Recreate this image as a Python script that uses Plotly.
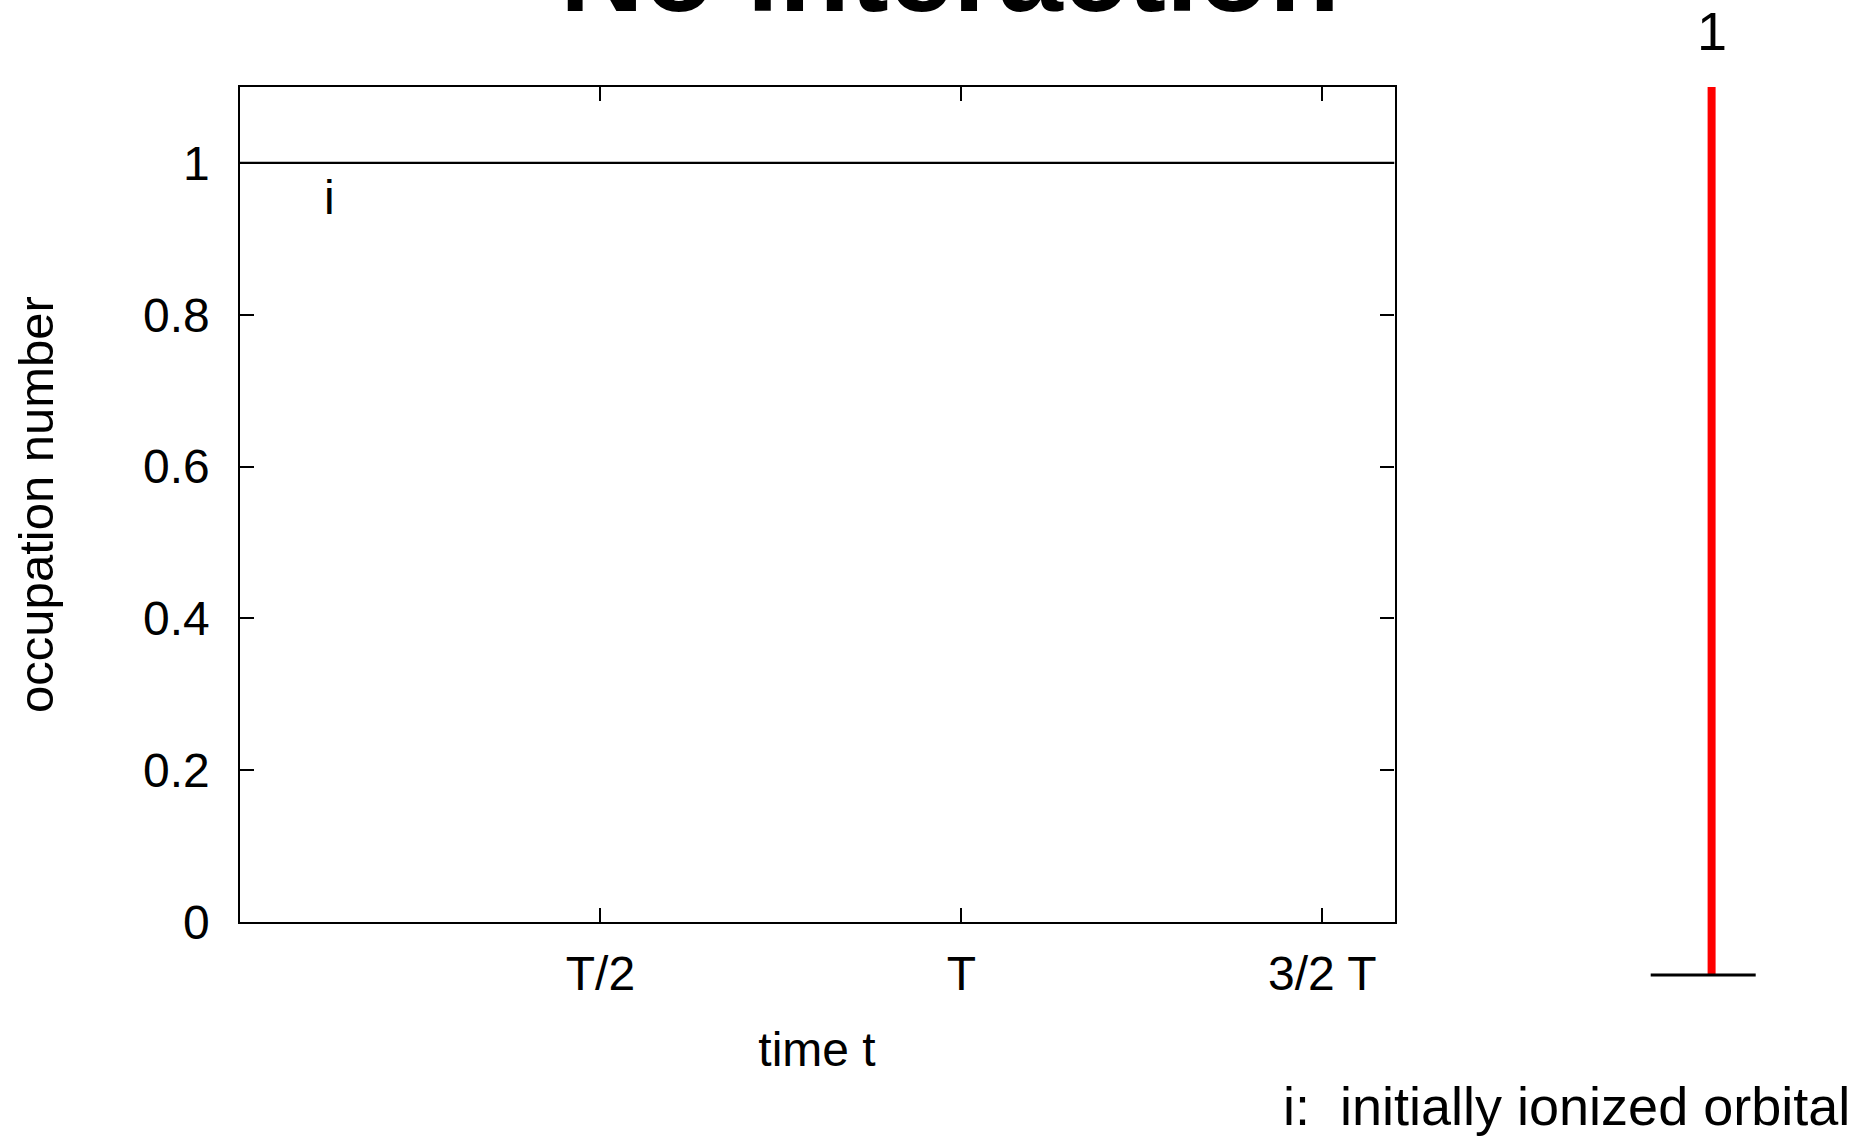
import plotly.graph_objects as go

# ---- data ----
time_t = [0.0, 1.6]            # in units of T
occupation_i = [1.0, 1.0]      # orbital i occupation number
x_tickvals = [0.5, 1.0, 1.5]
x_ticklabels = ["T/2", "T", "3/2 T"]
y_tickvals = [0, 0.2, 0.4, 0.6, 0.8, 1.0]
y_ticklabels = ["0", "0.2", "0.4", "0.6", "0.8", "1"]
level_x = [-0.5, 0.5]
level_y = [0.0, 0.0]
bar_x = [0.08, 0.08]
bar_occ = [0.0, 1.0]
bar_label = "1"

FONT = "Liberation Sans, Arial, Helvetica, sans-serif"
W, H = 1861, 1136

fig = go.Figure()
fig.add_trace(go.Scatter(x=time_t, y=occupation_i, mode="lines",
                         line=dict(color="black", width=2.2), showlegend=False,
                         xaxis="x", yaxis="y"))
fig.add_trace(go.Scatter(x=bar_x, y=bar_occ, mode="lines",
                         line=dict(color="#ff0000", width=8), showlegend=False,
                         xaxis="x2", yaxis="y2"))
fig.add_trace(go.Scatter(x=level_x, y=level_y, mode="lines",
                         line=dict(color="black", width=3), showlegend=False,
                         xaxis="x2", yaxis="y2"))

axis_common = dict(showgrid=False, zeroline=False, showline=True, linecolor="black",
                   linewidth=2.4, mirror="ticks", ticks="inside", ticklen=14,
                   tickwidth=2.2, tickcolor="black", automargin=False,
                   tickfont=dict(family=FONT, size=48, color="black"))

fig.update_layout(
    width=W, height=H,
    margin=dict(l=0, r=0, t=0, b=0, autoexpand=False),
    paper_bgcolor="white", plot_bgcolor="white",
    xaxis=dict(domain=[239.5 / W, 1394.5 / W], range=[0, 1.6],
               tickvals=x_tickvals, ticktext=x_ticklabels,
               ticklabelstandoff=8,
               title=dict(text="time t", font=dict(family=FONT, size=48, color="black"),
                          standoff=34),
               **axis_common),
    yaxis=dict(domain=[1 - 922 / H, 1 - 87 / H], range=[0, 1.1],
               tickvals=y_tickvals, ticktext=y_ticklabels,
               ticklabelstandoff=18,
               title=dict(text="occupation number", font=dict(family=FONT, size=49, color="black"),
                          standoff=74),
               **axis_common),
    xaxis2=dict(domain=[1640.2 / W, 1766.2 / W], range=[-0.6, 0.6], visible=False,
                anchor="y2", automargin=False),
    yaxis2=dict(domain=[1 - 1019.4 / H, 1 - 87 / H], range=[-0.05, 1.0], visible=False,
                anchor="x2", automargin=False),
    annotations=[
        dict(text="<b>No interaction</b>", xref="paper", yref="paper",
             x=949.5 / W, y=1 - 38 / H, xanchor="center", yanchor="bottom",
             showarrow=False, font=dict(family=FONT, size=116, color="black")),
        dict(text="i", xref="x", yref="y", x=0.125, y=0.954,
             xanchor="center", yanchor="middle", showarrow=False,
             font=dict(family=FONT, size=48, color="black")),
        dict(text=bar_label, xref="x2", yref="paper", x=bar_x[0], y=1 - 31 / H,
             xanchor="center", yanchor="middle", showarrow=False,
             font=dict(family=FONT, size=54, color="black")),
        dict(text="i:\u00a0 initially ionized orbital", xref="paper", yref="paper",
             x=1852 / W, y=1 - 1106 / H, xanchor="right", yanchor="middle",
             showarrow=False, font=dict(family=FONT, size=54, color="black")),
    ],
)

fig.write_html("out.html", config={"displayModeBar": False},
               post_script="document.body.style.margin='0';document.body.style.overflow='hidden';")
